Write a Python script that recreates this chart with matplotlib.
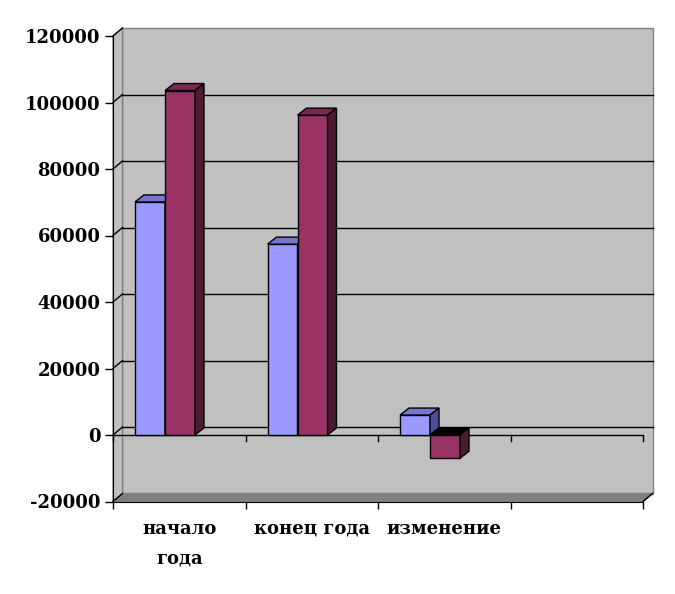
import matplotlib
matplotlib.use("Agg")
import matplotlib.pyplot as plt
from matplotlib.patches import Polygon
from matplotlib.ticker import FixedLocator, FixedFormatter

plt.rcParams['axes.unicode_minus'] = False
plt.rcParams['font.family'] = ['DejaVu Serif']

categories = ["начало\nгода", "конец года", "изменение", ""]
series_a = [70100, 57400, 6000]      # light blue series
series_b = [103600, 96200, -7000]    # maroon series
yticks = [-20000, 0, 20000, 40000, 60000, 80000, 100000, 120000]

W, H = 675, 594
fig = plt.figure(figsize=(W / 100, H / 100), dpi=100)
left_px, right_px = 113, 643
top_px, bot_px = 36, 501.5
ax = fig.add_axes([left_px / W, (H - bot_px) / H, (right_px - left_px) / W, (bot_px - top_px) / H])
ax.set_xlim(0, 4)
ax.set_ylim(-20000, 120000)

xpp = 4 / (right_px - left_px)
ypp = 140000 / (bot_px - top_px)
DX, DY = 9.5 * xpp, 8 * ypp        # wall depth
BDX, BDY = 9 * xpp, 7 * ypp        # bar depth

ax.set_facecolor('none')
for s in ['top', 'right']:
    ax.spines[s].set_visible(False)
ax.spines['left'].set_zorder(20)
ax.spines['bottom'].set_zorder(20)

gray = '#C0C0C0'
dark = '#808080'
# back wall
ax.add_patch(Polygon([(DX, -20000 + DY), (4 + DX, -20000 + DY), (4 + DX, 120000 + DY), (DX, 120000 + DY)],
                     closed=True, fc=gray, ec=dark, lw=1, clip_on=False, zorder=1))
# left side wall
ax.add_patch(Polygon([(0, -20000), (0, 120000), (DX, 120000 + DY), (DX, -20000 + DY)],
                     closed=True, fc=gray, ec=dark, lw=1, clip_on=False, zorder=1))
# floor
ax.add_patch(Polygon([(0, -20000), (4, -20000), (4 + DX, -20000 + DY), (DX, -20000 + DY)],
                     closed=True, fc=dark, ec=dark, lw=1, clip_on=False, zorder=2))
# gridlines
for v in yticks[1:]:
    if v < 120000:
        ax.plot([DX, 4 + DX], [v + DY, v + DY], color='black', lw=1, zorder=3, clip_on=False)
    ax.plot([0, DX], [v, v + DY], color='black', lw=1, zorder=3, clip_on=False)
ax.plot([0, DX], [-20000, -20000 + DY], color='black', lw=1, zorder=3, clip_on=False)
ax.plot([4, 4 + DX], [-20000, -20000 + DY], color='black', lw=1, zorder=3, clip_on=False)

# front zero line with ticks
ax.plot([0, 4], [0, 0], color='black', lw=1, zorder=4)
for i in range(5):
    ax.plot([i, i], [0, -6 * ypp], color='black', lw=1, zorder=4, clip_on=False)

# bars
bar_w = 30 * xpp
off_a = 22 * xpp
off_b = off_a + bar_w
xs = list(range(len(series_a)))

def faces(x0, v, top_c, side_c, neg_top, z):
    yt = max(0, v)
    yb = min(0, v)
    tc = neg_top if v < 0 else top_c
    ax.add_patch(Polygon([(x0, yt), (x0 + bar_w, yt), (x0 + bar_w + BDX, yt + BDY), (x0 + BDX, yt + BDY)],
                         closed=True, fc=tc, ec='black', lw=1, zorder=z))
    ax.add_patch(Polygon([(x0 + bar_w, yb), (x0 + bar_w, yt), (x0 + bar_w + BDX, yt + BDY), (x0 + bar_w + BDX, yb + BDY)],
                         closed=True, fc=side_c, ec='black', lw=1, zorder=z))

ax.bar([x + off_a for x in xs], series_a, width=bar_w, align='edge', color='#9999FF',
       edgecolor='black', lw=1, zorder=6)
ax.bar([x + off_b for x in xs], series_b, width=bar_w, align='edge', color='#993366',
       edgecolor='black', lw=1, zorder=7)
for i, (va, vb) in enumerate(zip(series_a, series_b)):
    faces(xs[i] + off_a, va, '#7777CC', '#4D4D99', '#000000', 6)
    faces(xs[i] + off_b, vb, '#7A2952', '#4C1A33', '#000000', 7)

# axes ticks and labels
ax.set_yticks(yticks)
ax.set_yticklabels([str(v) for v in yticks])
ax.tick_params(axis='y', direction='out', length=6, width=1, pad=3, labelsize=13)
ax.xaxis.set_major_locator(FixedLocator([0, 1, 2, 3, 4]))
ax.xaxis.set_major_formatter(FixedFormatter(['', '', '', '', '']))
ax.xaxis.set_minor_locator(FixedLocator([0.5, 1.5, 2.5, 3.5]))
ax.xaxis.set_minor_formatter(FixedFormatter(categories))
ax.tick_params(axis='x', which='major', direction='out', length=5, width=1)
ax.tick_params(axis='x', which='minor', length=0, pad=13, labelsize=13)
for lab in ax.get_yticklabels() + ax.xaxis.get_minorticklabels():
    lab.set_fontweight('bold')
for lab in ax.xaxis.get_minorticklabels():
    lab.set_linespacing(1.85)

fig.savefig('out.png', dpi=100, facecolor='white')
